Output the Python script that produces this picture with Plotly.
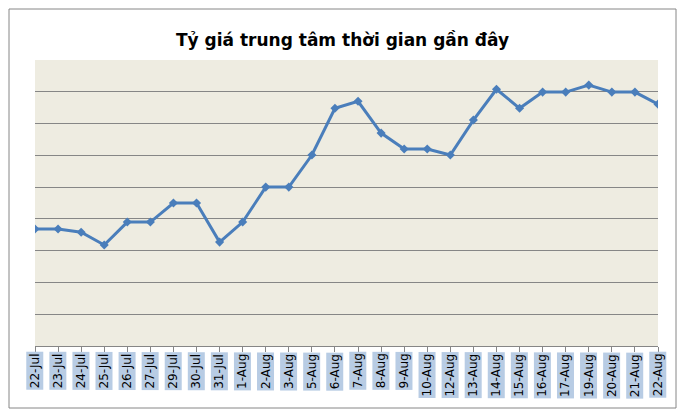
import plotly.graph_objects as go

dates = ["22-Jul", "23-Jul", "24-Jul", "25-Jul", "26-Jul", "27-Jul", "29-Jul", "30-Jul", "31-Jul",
         "1-Aug", "2-Aug", "3-Aug", "5-Aug", "6-Aug", "7-Aug", "8-Aug", "9-Aug", "10-Aug",
         "12-Aug", "13-Aug", "14-Aug", "15-Aug", "16-Aug", "17-Aug", "19-Aug", "20-Aug",
         "21-Aug", "22-Aug"]
rates = [3.68, 3.68, 3.58, 3.18, 3.90, 3.90, 4.50, 4.50, 3.27, 3.90, 5.00, 5.00, 6.01, 7.48,
         7.70, 6.70, 6.20, 6.20, 6.01, 7.11, 8.08, 7.48, 7.99, 7.99, 8.21, 7.99, 7.99, 7.61]

fig = go.Figure()
fig.add_trace(go.Scatter(x=dates, y=rates, mode="lines+markers",
                         line=dict(color="#4a7ebb", width=3),
                         marker=dict(symbol="diamond", size=7, color="#4a7ebb"),
                         showlegend=False))

# date labels in shaded boxes, like the spreadsheet original
for d in dates:
    fig.add_annotation(x=d, y=-0.02, xref="x", yref="paper", text=d, textangle=-90,
                       showarrow=False, yanchor="top", bgcolor="#b8cce4",
                       font=dict(family="DejaVu Sans", size=12, color="black"),
                       borderpad=1)

fig.update_layout(
    width=669, height=401,
    margin=dict(l=27, r=19, t=52, b=63),
    paper_bgcolor="white", plot_bgcolor="#eeece1",
    title=dict(text="<b>Tỷ giá trung tâm thời gian gần đây</b>", x=0.5, y=0.935,
               xanchor="center", font=dict(family="DejaVu Sans", size=17, color="black")),
    xaxis=dict(type="category", range=[0, len(dates) - 1], showticklabels=False,
               ticks="outside", ticklen=5, tickcolor="#868686", showgrid=False,
               showline=True, linecolor="#868686", linewidth=1),
    yaxis=dict(range=[0, 9], dtick=1, showticklabels=False, gridcolor="#868686",
               gridwidth=1, zeroline=False, showline=False),
)
fig.add_shape(type="rect", xref="paper", yref="paper", x0=-26/623, x1=1+18/623,
              y0=-62/286, y1=1+51/286, line=dict(color="#868686", width=1))

fig.write_html("out.html")
